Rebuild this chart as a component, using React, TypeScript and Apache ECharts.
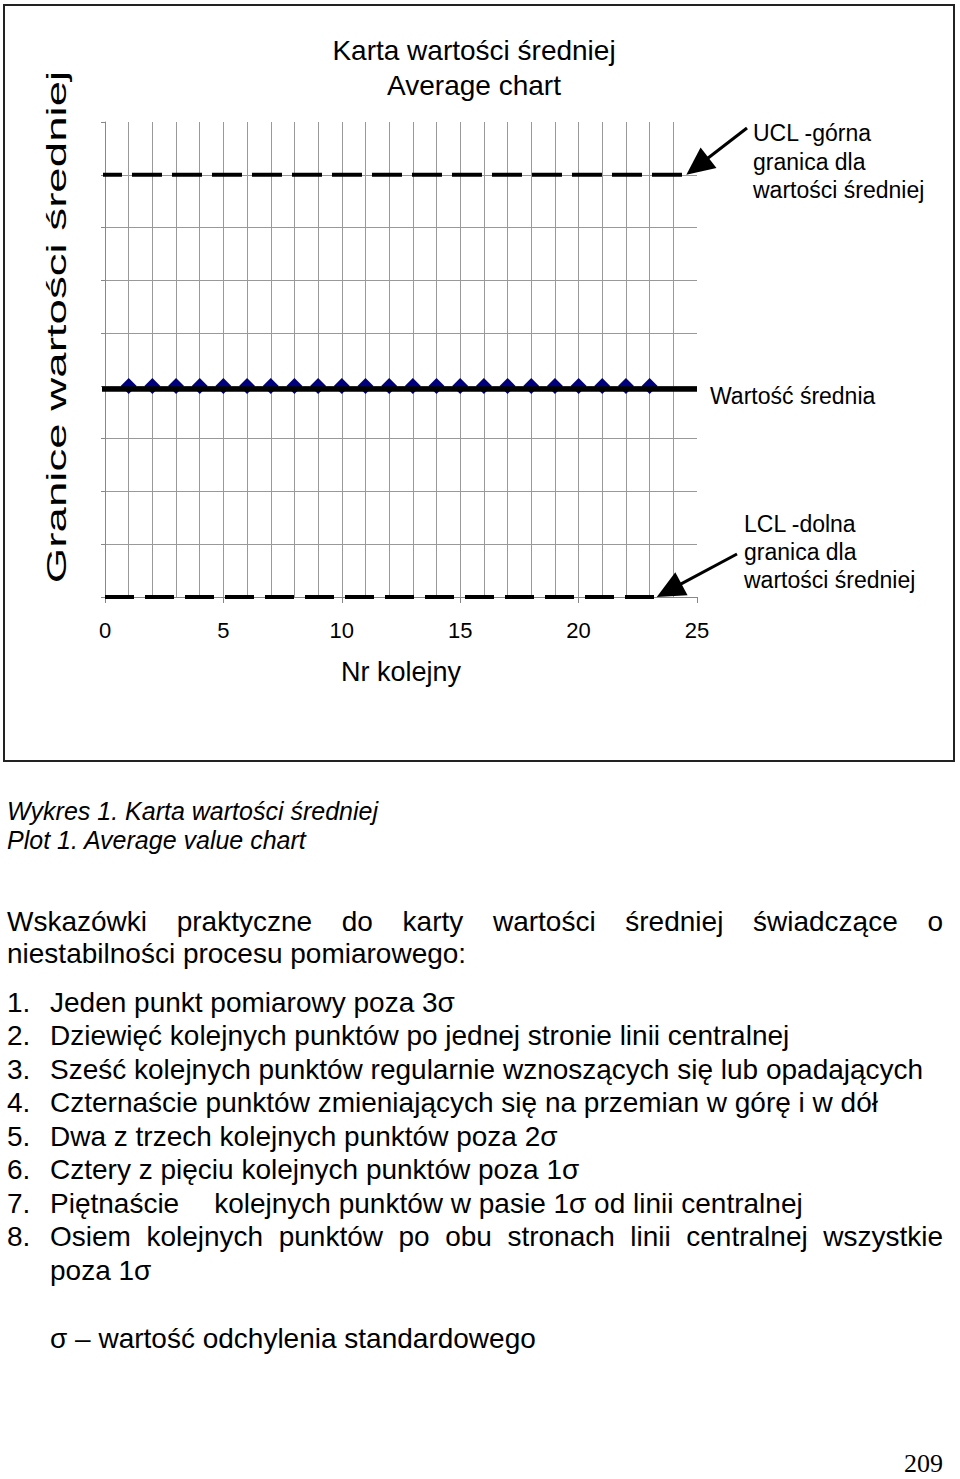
import React, { useEffect, useRef } from "react";
import * as echarts from "echarts";

// ---------- data ----------
const sampleNo = [1, 2, 3, 4, 5, 6, 7, 8, 9, 10, 11, 12, 13, 14, 15, 16, 17, 18, 19, 20, 21, 22, 23];
const sampleMean = [4, 4, 4, 4, 4, 4, 4, 4, 4, 4, 4, 4, 4, 4, 4, 4, 4, 4, 4, 4, 4, 4, 4];
const uclValue = 8;
const centerValue = 3.94;
const lclValue = 0;
const uclSpan = [-0.55, 24.55];
const centerSpan = [-0.5, 25];
const lclSpan = [0, 23.3];
const xRange = [0, 25];
const yRange = [0, 9];

const titleLines = ["Karta wartości średniej", "Average chart"];
const yTitle = "Granice wartości średniej";
const xTitle = "Nr kolejny";
const uclNote = ["UCL -górna", "granica dla", "wartości średniej"];
const meanNote = "Wartość średnia";
const lclNote = ["LCL -dolna", "granica dla", "wartości średniej"];
const caption = ["Wykres 1. Karta wartości średniej", "Plot 1. Average value chart"];
const introLine1 = ["Wskazówki", "praktyczne", "do", "karty", "wartości", "średniej", "świadczące", "o"];
const introLine2 = "niestabilności procesu pomiarowego:";
const ruleNumbers = ["1.", "2.", "3.", "4.", "5.", "6.", "7.", "8."];
const rules = [
  "Jeden punkt pomiarowy poza 3σ",
  "Dziewięć kolejnych punktów po jednej stronie linii centralnej",
  "Sześć kolejnych punktów regularnie wznoszących się lub opadających",
  "Czternaście punktów zmieniających się na przemian w górę i w dół",
  "Dwa z trzech kolejnych punktów poza 2σ",
  "Cztery z pięciu kolejnych punktów poza 1σ",
  "Piętnaście|kolejnych punktów w pasie 1σ od linii centralnej",
  "Osiem kolejnych punktów po obu stronach linii centralnej wszystkie",
];
const rule8Cont = "poza 1σ";
const sigmaNote = "σ – wartość odchylenia standardowego";
const pageNumber = "209";

const FONT = '"Liberation Sans", Arial, Helvetica, sans-serif';
const SERIF = '"Liberation Serif", "Times New Roman", serif';

let measureCtx: CanvasRenderingContext2D | null = null;
function measure(text: string, size: number, family = FONT) {
  if (!measureCtx) measureCtx = document.createElement("canvas").getContext("2d");
  measureCtx!.font = `${size}px ${family}`;
  return measureCtx!.measureText(text).width;
}

function txt(text: string, x: number, y: number, size: number, extra: any = {}) {
  return {
    type: "text",
    x,
    y,
    z: 100,
    style: {
      text,
      fontSize: size,
      fontFamily: FONT,
      fill: "#000",
      align: "left",
      verticalAlign: "middle",
      ...extra,
    },
  };
}

function justified(words: string[], x0: number, x1: number, y: number, size: number) {
  const widths = words.map((w) => measure(w, size));
  const total = widths.reduce((a, b) => a + b, 0);
  const gap = (x1 - x0 - total) / (words.length - 1);
  let x = x0;
  return words.map((w, i) => {
    const el = txt(w, x, y, size);
    x += widths[i] + gap;
    return el;
  });
}

function arrow(sx: number, sy: number, tx: number, ty: number, L: number, W: number) {
  const dx = tx - sx;
  const dy = ty - sy;
  const len = Math.hypot(dx, dy);
  const ux = dx / len;
  const uy = dy / len;
  const bx = tx - ux * L;
  const by = ty - uy * L;
  const px = -uy;
  const py = ux;
  return [
    {
      type: "line",
      z: 100,
      shape: { x1: sx, y1: sy, x2: bx + ux * 3, y2: by + uy * 3 },
      style: { stroke: "#000", lineWidth: 3 },
    },
    {
      type: "polygon",
      z: 100,
      shape: {
        points: [
          [tx, ty],
          [bx + px * W, by + py * W],
          [bx - px * W, by - py * W],
        ],
      },
      style: { fill: "#000" },
    },
  ];
}

export default function App() {
  const ref = useRef<HTMLDivElement>(null);

  useEffect(() => {
    const chart = echarts.init(ref.current!, undefined, { renderer: "svg" });
    const gridColor = "#999";
    const axisColor = "#888";

    chart.setOption({
      animation: false,
      backgroundColor: "#fff",
      grid: { left: 105, top: 122, width: 592, height: 475, containLabel: false },
      xAxis: [
        {
          type: "value",
          min: xRange[0],
          max: xRange[1],
          interval: 1,
          position: "bottom",
          axisLine: { show: false },
          axisTick: { show: false },
          axisLabel: { show: false },
          splitLine: {
            show: true,
            showMinLine: false,
            showMaxLine: false,
            lineStyle: { color: gridColor, width: 1 },
          },
        },
        {
          type: "value",
          min: xRange[0],
          max: xRange[1],
          interval: 5,
          position: "bottom",
          axisLine: { show: true, onZero: false, lineStyle: { color: axisColor, width: 1 } },
          axisTick: { show: true, length: 6, lineStyle: { color: axisColor } },
          axisLabel: { fontSize: 22, color: "#000", margin: 22, fontFamily: FONT },
          splitLine: { show: false },
          name: xTitle,
          nameLocation: "middle",
          nameGap: 61,
          nameTextStyle: { fontSize: 27, color: "#000", fontFamily: FONT },
        },
      ],
      yAxis: {
        type: "value",
        min: yRange[0],
        max: yRange[1],
        interval: 1,
        axisLine: { show: true, onZero: false, lineStyle: { color: axisColor, width: 1 } },
        axisTick: { show: true, length: 4, lineStyle: { color: axisColor } },
        axisLabel: { show: false },
        splitLine: {
          show: true,
          showMinLine: false,
          showMaxLine: false,
          lineStyle: { color: gridColor, width: 1 },
        },
      },
      series: [
        {
          name: "UCL",
          type: "line",
          xAxisIndex: 0,
          clip: false,
          symbol: "none",
          z: 3,
          data: uclSpan.map((x) => [x, uclValue]),
          lineStyle: { color: "#000", width: 4, type: [30, 10] },
        },
        {
          name: "LCL",
          type: "line",
          xAxisIndex: 0,
          clip: false,
          symbol: "none",
          z: 3,
          data: lclSpan.map((x) => [x, lclValue]),
          lineStyle: { color: "#000", width: 4, type: [29, 11] },
        },
        {
          name: "Średnie",
          type: "scatter",
          xAxisIndex: 0,
          symbol: "diamond",
          symbolSize: [16, 16],
          z: 2,
          data: sampleNo.map((x, i) => [x, sampleMean[i]]),
          itemStyle: { color: "#00007c", opacity: 1 },
        },
        {
          name: "Wartość średnia",
          type: "line",
          xAxisIndex: 0,
          clip: false,
          symbol: "none",
          z: 4,
          data: centerSpan.map((x) => [x, centerValue]),
          lineStyle: { color: "#000", width: 5.5 },
        },
      ],
    });

    const uclTip = chart.convertToPixel({ xAxisIndex: 0, yAxisIndex: 0 }, [uclSpan[1], uclValue]) as number[];
    const lclTip = chart.convertToPixel({ xAxisIndex: 0, yAxisIndex: 0 }, [lclSpan[1], lclValue]) as number[];

    const elements: any[] = [];
    // outer frame
    elements.push({
      type: "rect",
      z: 90,
      shape: { x: 4, y: 5, width: 950, height: 756 },
      style: { fill: "transparent", stroke: "#222", lineWidth: 2 },
    });
    // title
    elements.push(txt(titleLines[0], 474, 50, 28, { align: "center" }));
    elements.push(txt(titleLines[1], 474, 85, 28, { align: "center" }));
    // y title (stretched, vertical)
    elements.push({
      type: "text",
      x: 56,
      y: 327,
      z: 100,
      rotation: Math.PI / 2,
      scaleX: 1.63,
      style: {
        text: yTitle,
        fontSize: 28,
        fontFamily: FONT,
        fill: "#000",
        align: "center",
        verticalAlign: "middle",
      },
    });
    // annotations
    uclNote.forEach((t, i) => elements.push(txt(t, 753, 133 + i * 28.5, 23)));
    elements.push(txt(meanNote, 710, 396, 23));
    lclNote.forEach((t, i) => elements.push(txt(t, 744, 524 + i * 28, 23)));
    elements.push(...arrow(747, 128, uclTip[0], uclTip[1], 28, 13));
    elements.push(...arrow(737, 554, lclTip[0], lclTip[1], 28, 13));

    // caption
    elements.push(txt(caption[0], 7, 811, 25, { fontStyle: "italic" }));
    elements.push(txt(caption[1], 7, 840, 25, { fontStyle: "italic" }));

    // intro paragraph
    elements.push(...justified(introLine1, 7, 943, 921, 28));
    elements.push(txt(introLine2, 7, 953, 28));

    // rules
    const ruleY0 = 1002;
    const ruleStep = 33.5;
    rules.forEach((r, i) => {
      const y = ruleY0 + i * ruleStep;
      elements.push(txt(ruleNumbers[i], 7, y, 28));
      if (i === 7) {
        elements.push(...justified(r.split(" "), 50, 943, y, 28));
      } else if (r.includes("|")) {
        const [a, b] = r.split("|");
        elements.push(txt(a, 50, y, 28));
        elements.push(txt(b, 50 + measure(a, 28) + 35, y, 28));
      } else {
        elements.push(txt(r, 50, y, 28));
      }
    });
    elements.push(txt(rule8Cont, 50, ruleY0 + 8 * ruleStep, 28));
    elements.push(txt(sigmaNote, 50, 1338, 28));
    elements.push(
      txt(pageNumber, 943, 1463, 26, { align: "right", fontFamily: SERIF })
    );

    chart.setOption({ graphic: { elements } });

    return () => chart.dispose();
  }, []);

  return (
    <div
      ref={ref}
      style={{ position: "absolute", left: 0, top: 0, width: 960, height: 1479, background: "#fff" }}
    />
  );
}
